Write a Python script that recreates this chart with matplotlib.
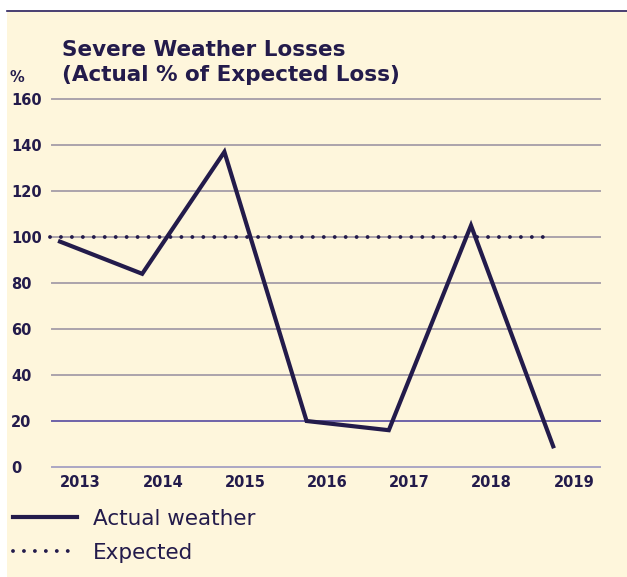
import matplotlib.pyplot as plt
from matplotlib.lines import Line2D
from matplotlib.patches import Rectangle
import numpy as np

# severe weather losses, actual % of expected loss
years = ['2013', '2014', '2015', '2016', '2017', '2018', '2019']
actual = [98, 84, 137, 20, 16, 105, 9]
expected = [100, 100, 100, 100, 100, 100, 100]
y_ticks = [0, 20, 40, 60, 80, 100, 120, 140, 160]

ink = '#231b4b'
cream = '#fef6dc'

W, H = 627, 577
fig = plt.figure(figsize=(W / 100, H / 100), dpi=100, facecolor='white')
fig.patches.append(Rectangle((7 / W, 0), 1, (H - 10) / H, transform=fig.transFigure,
                             facecolor=cream, edgecolor='none', zorder=-10))
fig.add_artist(Line2D([7 / W, 1], [(H - 10.5) / H] * 2, transform=fig.transFigure,
                      color='#2a2060', lw=1.2))

ax = fig.add_axes([52 / W, (H - 467) / H, 548 / W, 368 / H])
ax.set_facecolor('none')
for s in ax.spines.values():
    s.set_visible(False)

step = 82.2
x = np.arange(len(years))
ax.set_xlim(-8 / step, 540 / step)
ax.set_ylim(0, 160)

# horizontal grid
grid_cols = {0: '#aba6c4', 20: '#6e62a8'}
for t in y_ticks:
    ax.axhline(t, color=grid_cols.get(t, '#aba3ab'), lw=1.4, zorder=1, clip_on=False)

ax.plot(x - 0.12, expected, color=ink, lw=2.8, linestyle=(0, (0.001, 2.815)),
        dash_capstyle='round', clip_on=False, zorder=3, label='Expected')
ax.plot(x, actual, color=ink, lw=3.0, solid_joinstyle='miter', zorder=4,
        label='Actual weather')

ax.set_yticks(y_ticks)
ax.set_yticklabels([str(t) for t in y_ticks], fontsize=10.5, fontweight='bold',
                   color=ink, ha='left', va='center_baseline')
ax.set_xticks(x + 0.25)
ax.set_xticklabels(years, fontsize=10.5, fontweight='bold', color=ink)
ax.tick_params(axis='y', length=0, pad=29.5)
ax.tick_params(axis='x', length=0, pad=6)

fig.text(62 / W, (H - 56) / H, 'Severe Weather Losses', fontsize=15.5, fontweight='bold',
         color=ink, va='baseline')
fig.text(62 / W, (H - 81) / H, '(Actual % of Expected Loss)', fontsize=15.5,
         fontweight='bold', color=ink, va='baseline')
fig.text(10 / W, (H - 82) / H, '%', fontsize=10.5, fontweight='bold', color=ink,
         va='baseline')

h, l = ax.get_legend_handles_labels()
fig.legend(h[::-1], l[::-1], loc='upper left', bbox_to_anchor=(4 / W, (H - 500) / H),
           frameon=False, fontsize=15.5, handlelength=3.0, handletextpad=0.75,
           labelspacing=0.66, labelcolor=ink, borderaxespad=0)

fig.savefig('out.png', dpi=100, facecolor='white')
